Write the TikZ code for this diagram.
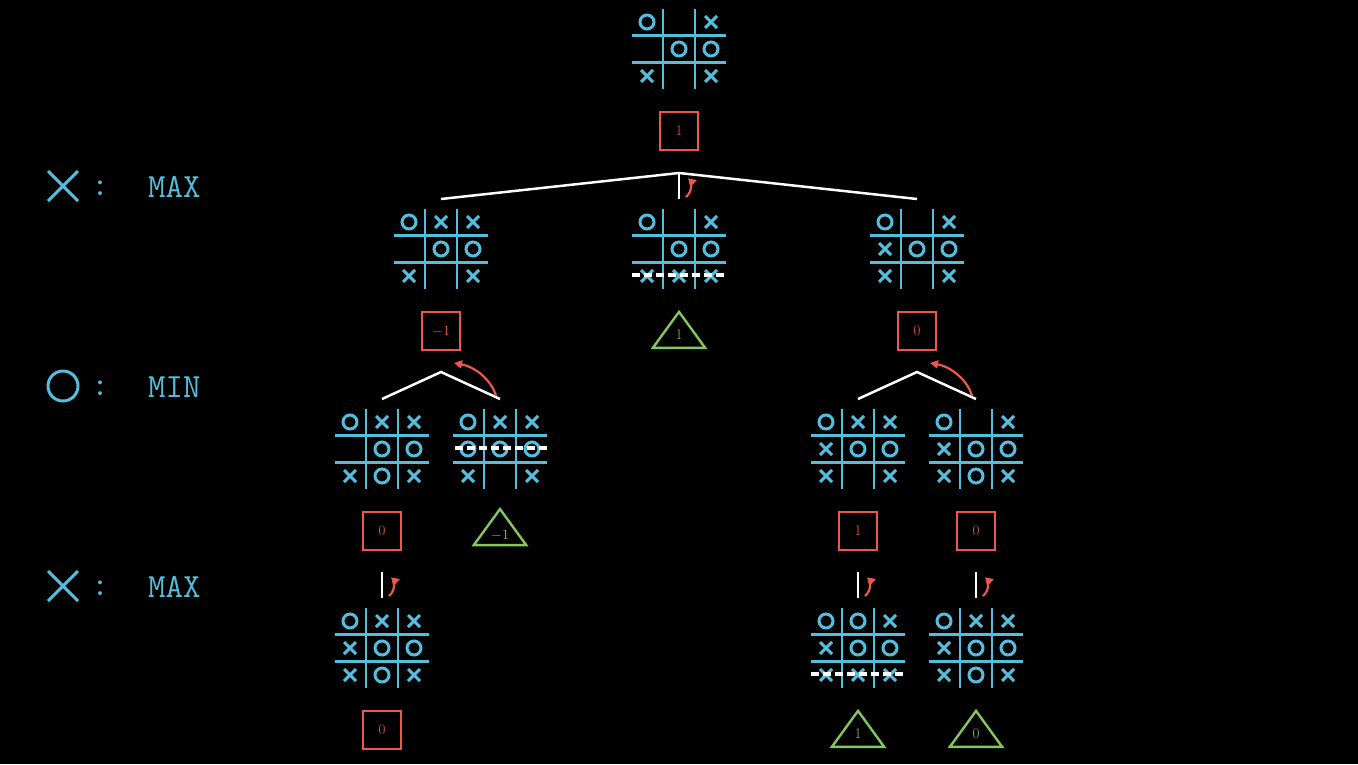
\documentclass[tikz,border=0pt]{standalone}
\usetikzlibrary{arrows.meta,shapes.geometric,calc}
\definecolor{cy}{RGB}{84,190,222}
\definecolor{rd}{RGB}{238,88,76}
\definecolor{gr}{RGB}{132,198,96}
\tikzset{
  grid/.style={cy,line width=2.2pt},
  symb/.style={cy,line width=3pt},
  valbox/.style={draw=rd,line width=2.4pt,minimum size=38bp,inner sep=0pt,text=rd,font=\fontsize{15}{15}\selectfont},
  valtri/.style={draw=gr,line width=2.4pt,isosceles triangle,isosceles triangle apex angle=72,shape border rotate=90,minimum height=36bp,inner sep=0pt,text=gr,font=\fontsize{15}{15}\selectfont,anchor=center},
  edge/.style={white,line width=2.5pt},
  win/.style={white,line width=4pt,dash pattern=on 8bp off 4bp},
  back/.style={rd,line width=2.2pt,-{Triangle[length=8bp,width=8bp]}},
  pics/cello/.style={code={\draw[symb] (0,0) circle (7bp);}},
  pics/cellx/.style={code={\draw[symb] (-6bp,-6bp)--(6bp,6bp) (-6bp,6bp)--(6bp,-6bp);}},
  pics/celln/.style={code={}},
}
\newcommand{\brd}[4]{% name, x, y, cells
  \node[minimum width=94bp,minimum height=79bp,inner sep=0pt] (#1) at (#2,#3) {};
  \begin{scope}[shift={(#2,#3)}]
    \draw[grid] (-16,-40)--(-16,40) (16,-40)--(16,40) (-47,-13.5)--(47,-13.5) (-47,13.5)--(47,13.5);
    \foreach \c [count=\i from 0] in {#4}{
      \pgfmathtruncatemacro\cc{mod(\i,3)}
      \pgfmathtruncatemacro\rr{int(\i/3)}
      \pic at ({(\cc-1)*32},{(\rr-1)*27}) {cell\c};
    }
  \end{scope}}
\newcommand{\tick}[3]{% name x y(top)
  \coordinate (#1) at (#2,#3);
  \draw[edge] (#1) -- ++(0,26);
  \draw[back] ($(#1)+(7,24)$) .. controls ($(#1)+(14,18)$) and ($(#1)+(12,9)$) .. ($(#1)+(18,7)$);}
\newcommand{\backarc}[1]{% start at bottom right end
  \draw[back] ($(#1)+(-4,-3)$) .. controls ($(#1)+(-8,-18)$) and ($(#1)+(-24,-32)$) .. ($(#1)+(-46,-36)$);}
\begin{document}
\begin{tikzpicture}[x=1bp,y=-1bp]
\fill[black] (0,0) rectangle (1358,764);
\useasboundingbox (0,0) rectangle (1358,764);
% legend
\begin{scope}[font=\ttfamily\fontsize{34}{34}\selectfont,text=cy]
\draw[cy,line width=3pt] (48,171)--(78,201) (48,201)--(78,171);
\node (l1) at (100,188) {:}; \node[anchor=west,inner sep=0pt] (m1) at (148,187) {MAX};
\draw[cy,line width=3pt] (63,386) circle (15);
\node (l2) at (100,388) {:}; \node[anchor=west,inner sep=0pt] (m2) at (148,387) {MIN};
\draw[cy,line width=3pt] (48,571)--(78,601) (48,601)--(78,571);
\node (l3) at (100,588) {:}; \node[anchor=west,inner sep=0pt] (m3) at (148,587) {MAX};
\end{scope}
% level 0
\brd{b0}{679}{49}{o,n,x,n,o,o,x,n,x}
\node[valbox] (v0) at (679,131) {1};
\coordinate (a0) at (679,173);
\coordinate (e1) at (441,199); \coordinate (e3) at (917,199);
\draw[edge] (e1) -- (a0) -- (e3);
\tick{t0}{679}{173}
% level 1
\brd{b1}{441}{249}{o,x,x,n,o,o,x,n,x}
\brd{b2}{679}{249}{o,n,x,n,o,o,x,x,x}
\draw[win] (632,275)--(726,275);
\brd{b3}{917}{249}{o,n,x,x,o,o,x,n,x}
\node[valbox] (v1) at (441,331) {$-1$};
\node[valtri] (v2) at (679,335) {1};
\node[valbox] (v3) at (917,331) {0};
% level1 -> level2
\coordinate (a1) at (441,372); \coordinate (f1) at (382,399); \coordinate (f2) at (500,399);
\draw[edge] (f1)--(a1)--(f2);
\backarc{f2}
\coordinate (a3) at (917,372); \coordinate (f3) at (858,399); \coordinate (f4) at (976,399);
\draw[edge] (f3)--(a3)--(f4);
\backarc{f4}
% level 2
\brd{b4}{382}{449}{o,x,x,n,o,o,x,o,x}
\brd{b5}{500}{449}{o,x,x,o,o,o,x,n,x}
\draw[win] (455,448)--(548,448);
\brd{b6}{858}{449}{o,x,x,x,o,o,x,n,x}
\brd{b7}{976}{449}{o,n,x,x,o,o,x,o,x}
\node[valbox] (v4) at (382,531) {0};
\node[valtri] (v5) at (500,535) {$-1$};
\node[valbox] (v6) at (858,531) {1};
\node[valbox] (v7) at (976,531) {0};
\tick{t4}{382}{572}
\tick{t6}{858}{572}
\tick{t7}{976}{572}
% level 3
\brd{b8}{382}{648}{o,x,x,x,o,o,x,o,x}
\brd{b9}{858}{648}{o,o,x,x,o,o,x,x,x}
\draw[win] (811,674)--(905,674);
\brd{b10}{976}{648}{o,x,x,x,o,o,x,o,x}
\node[valbox] (v8) at (382,730) {0};
\node[valtri] (v9) at (858,734) {1};
\node[valtri] (v10) at (976,734) {0};
\end{tikzpicture}
\end{document}
